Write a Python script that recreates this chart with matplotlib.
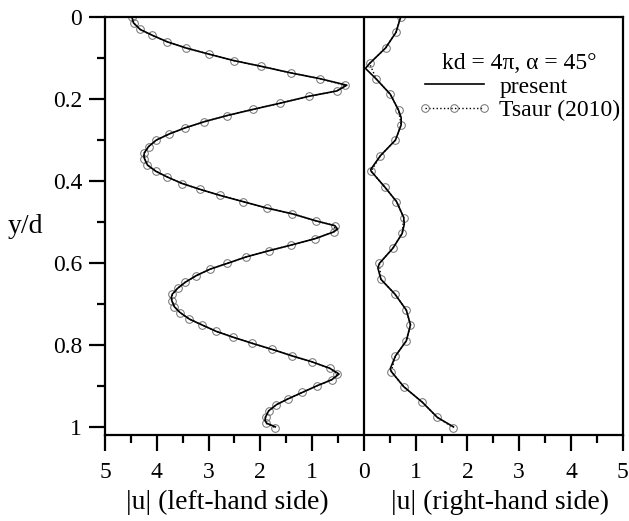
import matplotlib
matplotlib.use("Agg")
import matplotlib.pyplot as plt
from matplotlib.ticker import MultipleLocator, FuncFormatter
import matplotlib.transforms as mtransforms

plt.rcParams['font.family'] = ['Liberation Serif', 'DejaVu Serif']

# left-hand side |u| vs y/d : Tsaur (2010) markers
left_y = [0.000, 0.014, 0.030, 0.044, 0.060, 0.075, 0.090, 0.106, 0.120, 0.136,
          0.150, 0.166, 0.180, 0.193, 0.210, 0.225, 0.240, 0.255, 0.270, 0.285,
          0.300, 0.316, 0.331, 0.345, 0.361, 0.376, 0.390, 0.406, 0.420, 0.435,
          0.450, 0.466, 0.480, 0.497, 0.509, 0.524, 0.541, 0.556, 0.570, 0.585,
          0.601, 0.615, 0.631, 0.647, 0.662, 0.676, 0.692, 0.707, 0.721, 0.737,
          0.751, 0.767, 0.781, 0.796, 0.811, 0.827, 0.841, 0.857, 0.871, 0.885,
          0.900, 0.916, 0.932, 0.946, 0.961, 0.976, 0.991, 1.002]
left_u = [4.48, 4.45, 4.32, 4.09, 3.80, 3.44, 3.00, 2.51, 1.98, 1.41,
          0.85, 0.37, 0.52, 1.06, 1.62, 2.14, 2.64, 3.08, 3.45, 3.76,
          4.01, 4.16, 4.24, 4.24, 4.18, 4.02, 3.80, 3.51, 3.17, 2.78,
          2.34, 1.87, 1.38, 0.93, 0.56, 0.58, 0.95, 1.40, 1.83, 2.27,
          2.64, 2.97, 3.24, 3.45, 3.60, 3.70, 3.71, 3.66, 3.55, 3.37,
          3.13, 2.85, 2.53, 2.16, 1.77, 1.38, 1.01, 0.66, 0.51, 0.62,
          0.91, 1.19, 1.47, 1.69, 1.84, 1.90, 1.90, 1.71]

# left-hand side: present (turning points added)
left_line_y = [0.000, 0.014, 0.030, 0.044, 0.060, 0.075, 0.090, 0.106, 0.120, 0.136,
               0.150, 0.166, 0.180, 0.193, 0.210, 0.225, 0.240, 0.255, 0.270, 0.285,
               0.300, 0.316, 0.331, 0.338, 0.345, 0.361, 0.376, 0.390, 0.406, 0.420,
               0.435, 0.450, 0.466, 0.480, 0.497, 0.509, 0.517, 0.524, 0.541, 0.556,
               0.570, 0.585, 0.601, 0.615, 0.631, 0.647, 0.662, 0.676, 0.684, 0.692,
               0.707, 0.721, 0.737, 0.751, 0.767, 0.781, 0.796, 0.811, 0.827, 0.841,
               0.857, 0.871, 0.885, 0.900, 0.916, 0.932, 0.946, 0.961, 0.976, 0.984,
               0.991, 1.000]
left_line_u = [4.48, 4.45, 4.32, 4.09, 3.80, 3.44, 3.00, 2.51, 1.98, 1.41,
               0.85, 0.33, 0.52, 1.06, 1.62, 2.14, 2.64, 3.08, 3.45, 3.76,
               4.01, 4.16, 4.24, 4.25, 4.24, 4.18, 4.02, 3.80, 3.51, 3.17,
               2.78, 2.34, 1.87, 1.38, 0.93, 0.56, 0.51, 0.58, 0.95, 1.40,
               1.83, 2.27, 2.64, 2.97, 3.24, 3.45, 3.60, 3.70, 3.72, 3.71,
               3.66, 3.55, 3.37, 3.13, 2.85, 2.53, 2.16, 1.77, 1.38, 1.01,
               0.66, 0.48, 0.62, 0.91, 1.19, 1.47, 1.69, 1.84, 1.90, 1.91,
               1.88, 1.71]

# right-hand side: Tsaur (2010) markers
right_y = [0.000, 0.037, 0.075, 0.113, 0.151, 0.188, 0.227, 0.263, 0.300, 0.338,
           0.376, 0.414, 0.450, 0.489, 0.528, 0.564, 0.601, 0.640, 0.676, 0.715,
           0.751, 0.790, 0.827, 0.865, 0.902, 0.940, 0.977, 1.002]
right_u = [0.71, 0.62, 0.42, 0.11, 0.24, 0.51, 0.67, 0.72, 0.61, 0.32,
           0.14, 0.40, 0.63, 0.77, 0.74, 0.56, 0.30, 0.33, 0.60, 0.82,
           0.90, 0.82, 0.61, 0.53, 0.77, 1.13, 1.42, 1.73]

# right-hand side: present (turning points added)
right_line_y = [0.000, 0.037, 0.075, 0.113, 0.125, 0.151, 0.188, 0.227, 0.245, 0.263,
                0.300, 0.338, 0.372, 0.376, 0.414, 0.450, 0.489, 0.505, 0.528, 0.564,
                0.601, 0.612, 0.640, 0.676, 0.715, 0.751, 0.790, 0.827, 0.858, 0.865,
                0.902, 0.940, 0.977, 1.000]
right_line_u = [0.71, 0.62, 0.42, 0.11, 0.03, 0.24, 0.51, 0.67, 0.72, 0.72,
                0.61, 0.32, 0.13, 0.14, 0.40, 0.63, 0.77, 0.78, 0.74, 0.56,
                0.30, 0.27, 0.33, 0.60, 0.82, 0.90, 0.82, 0.61, 0.51, 0.53,
                0.77, 1.13, 1.42, 1.73]

title_text = "kd = 4\u03c0, \u03b1 = 45\u00b0"

fig = plt.figure(figsize=(6.29, 5.21), dpi=100)
ax = fig.add_axes([0.167, 0.165, 0.823, 0.802])

mk = dict(marker='o', markersize=5.5, markerfacecolor='none',
          markeredgecolor='#707070', markeredgewidth=0.7)

ax.plot([-u for u in left_u], left_y, color='black', linestyle=':',
        linewidth=1.0, zorder=2, label='Tsaur (2010)', **mk)
ax.plot(right_u, right_y, color='black', linestyle=':', linewidth=1.0,
        zorder=2, **mk)
ax.plot([-u for u in left_line_u], left_line_y, color='black',
        linewidth=1.2, zorder=3, label='present')
ax.plot(right_line_u, right_line_y, color='black', linewidth=1.2, zorder=3)

ax.axvline(0, color='black', linewidth=1.6, zorder=1)

ax.set_xlim(-5, 5)
ax.set_ylim(1.02, 0)

ax.xaxis.set_major_locator(MultipleLocator(1))
ax.xaxis.set_minor_locator(MultipleLocator(0.5))
ax.yaxis.set_major_locator(MultipleLocator(0.2))
ax.yaxis.set_minor_locator(MultipleLocator(0.1))
ax.xaxis.set_major_formatter(FuncFormatter(lambda v, p: f"{abs(v):g}"))
ax.yaxis.set_major_formatter(FuncFormatter(lambda v, p: f"{v:g}"))

ax.tick_params(axis='both', which='major', direction='out', length=11.5,
               width=1.6, labelsize=17)
ax.tick_params(axis='x', which='major', pad=8)
ax.tick_params(axis='y', which='major', pad=5)
ax.tick_params(axis='both', which='minor', direction='out', length=5.5,
               width=1.6)
ax.tick_params(top=False, right=False, which='both')
for s in ax.spines.values():
    s.set_linewidth(1.6)

trans = mtransforms.blended_transform_factory(ax.transData, fig.transFigure)
ax.text(-2.63, 0.035, "|u| (left-hand side)", transform=trans,
        ha='center', va='center', fontsize=20)
ax.text(2.63, 0.035, "|u| (right-hand side)", transform=trans,
        ha='center', va='center', fontsize=20)
fig.text(0.041, 0.566, "y/d", ha='center', va='center', fontsize=20)

handles, labels = ax.get_legend_handles_labels()
leg = ax.legend(handles[::-1], labels[::-1], loc='upper left',
                bbox_to_anchor=(0.604, 0.915), frameon=False, fontsize=17,
                title=title_text, title_fontsize=17, handlelength=3.1,
                handletextpad=0.35, numpoints=3, labelspacing=0.1,
                borderpad=0.0, borderaxespad=0.0)

fig.savefig("out.png", dpi=100)
